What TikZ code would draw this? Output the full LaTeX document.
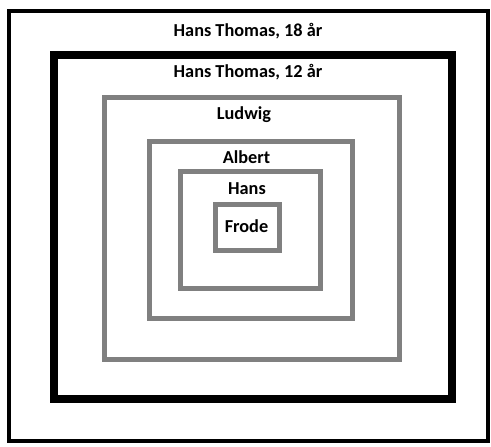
\documentclass[tikz,border=0pt]{standalone}
\usepackage{fontspec}
\setmainfont{Carlito}
\begin{document}
\begin{tikzpicture}[x=0.75pt,y=-0.75pt,line join=miter]
			\tikzset{frame style/.style={draw=black,line width=3pt},
				thick frame/.style={draw=black,line width=6pt},
				grey frame/.style={draw=gray,line width=3.75pt},
				name style/.style={font=\bfseries\fontsize{13.7}{16}\selectfont,inner sep=0pt}}
			%%Khung
			\useasboundingbox (0,0) rectangle (491,446);
			\draw[frame style] (9,11) rectangle (488,441);
			\draw[thick frame] (54,54.5) rectangle (452,398.5);
			\draw[grey frame] (104,97.5) rectangle (399.5,359);
			\draw[grey frame] (149.5,141.5) rectangle (352.5,318.5);
			\draw[grey frame] (180.5,171.5) rectangle (320,288);
			\draw[grey frame] (215,204.5) rectangle (279.5,250);
			%%Tên
			\node[name style] (ht18) at (248,31) {Hans Thomas, 18 år};
			\node[name style] (ht12) at (248,72) {Hans Thomas, 12 år};
			\node[name style] (ludwig) at (244,115) {Ludwig};
			\node[name style] (albert) at (246.5,157) {Albert};
			\node[name style] (hans) at (247,189) {Hans};
			\node[name style] (frode) at (246.5,226) {Frode};
\end{tikzpicture}
\end{document}
